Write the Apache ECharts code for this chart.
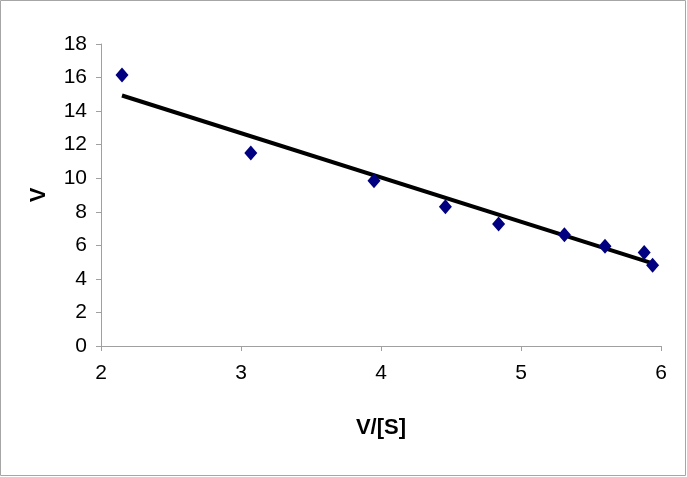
<!DOCTYPE html>
<html>
<head>
<meta charset="utf-8">
<script src="https://cdn.jsdelivr.net/npm/echarts@6/dist/echarts.min.js"></script>
<style>
  html, body { margin: 0; padding: 0; background: #fff; }
  #chart { width: 687px; height: 477px; }
</style>
</head>
<body>
<div id="chart"></div>
<script>
var xValues = [2.15, 3.07, 3.95, 4.46, 4.84, 5.31, 5.6, 5.88, 5.94];
var yValues = [16.15, 11.5, 9.85, 8.3, 7.27, 6.63, 5.95, 5.58, 4.82];
// trend line end points
var trendX = [2.15, 5.94];
var trendY = [14.93, 4.92];

var xTicks = [2, 3, 4, 5, 6];
var yTicks = [0, 2, 4, 6, 8, 10, 12, 14, 16, 18];

var font = "'Liberation Sans Narrow', 'Arial Narrow', 'Liberation Sans', Arial, sans-serif";

var points = xValues.map(function (x, i) { return [x, yValues[i]]; });
var trend = trendX.map(function (x, i) { return [x, trendY[i]]; });

var chart = echarts.init(document.getElementById("chart"));
chart.setOption({
  animation: false,
  grid: { left: 101, right: 26, top: 44, bottom: 131 },
  graphic: [{
    type: "rect",
    shape: { x: 0.5, y: 0.5, width: 685, height: 475 },
    style: { fill: "none", stroke: "#a6a6a6", lineWidth: 1 }
  }],
  xAxis: {
    type: "value",
    min: xTicks[0],
    max: xTicks[xTicks.length - 1],
    interval: 1,
    name: "V/[S]",
    nameLocation: "middle",
    nameGap: 71,
    nameTextStyle: { fontFamily: font, fontSize: 22, fontWeight: "bold", color: "#000" },
    axisLine: { lineStyle: { color: "#a0a0a0", width: 1 } },
    axisTick: { show: true, length: 5, lineStyle: { color: "#a0a0a0" } },
    axisLabel: { fontFamily: font, fontSize: 21, color: "#000", margin: 17 },
    splitLine: { show: false }
  },
  yAxis: {
    type: "value",
    min: yTicks[0],
    max: yTicks[yTicks.length - 1],
    interval: 2,
    name: "V",
    nameLocation: "middle",
    nameGap: 51,
    nameTextStyle: { fontFamily: font, fontSize: 22, fontWeight: "bold", color: "#000" },
    axisLine: { show: true, lineStyle: { color: "#a0a0a0", width: 1 } },
    axisTick: { show: true, length: 5, lineStyle: { color: "#a0a0a0" } },
    axisLabel: { fontFamily: font, fontSize: 21, color: "#000", margin: 14 },
    splitLine: { show: false }
  },
  series: [
    {
      type: "line",
      data: trend,
      symbol: "none",
      lineStyle: { color: "#000", width: 4 },
      z: 2
    },
    {
      type: "scatter",
      data: points,
      symbol: "diamond",
      symbolSize: [13, 15],
      itemStyle: { color: "#000080", opacity: 1 },
      z: 3
    }
  ]
});
</script>
</body>
</html>
